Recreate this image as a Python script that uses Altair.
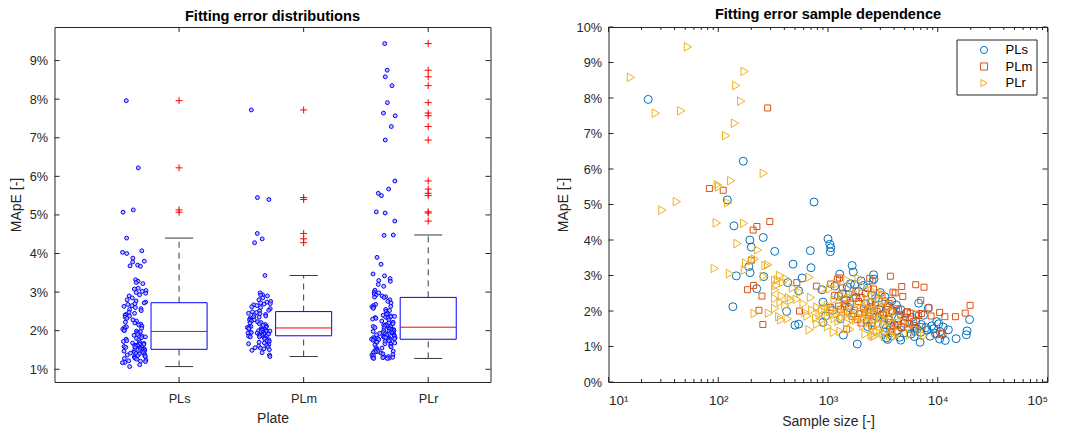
import altair as alt
import pandas as pd

PLATES = ["PLs", "PLm", "PLr"]
COLORS = ["#0072BD", "#D95319", "#EDB120"]
SHAPES = ["circle", "square", "triangle-right"]

PLS_MAPE = [7.96, 6.22, 5.13, 5.07, 4.40, 4.07, 4.03, 4.00, 3.88, 3.80, 3.78, 3.70, 3.68, 3.67,
            3.32, 3.28, 3.25, 3.22, 3.10, 3.08, 3.04, 3.02, 2.99, 2.97, 2.93, 2.90, 2.85, 2.80, 2.77, 2.74,
            2.72, 2.70, 2.68, 2.65, 2.63, 2.60, 2.57, 2.55, 2.52, 2.48, 2.45, 2.42, 2.40, 2.38, 2.35,
            2.32, 2.28, 2.25, 2.22, 2.20, 2.17, 2.15, 2.12, 2.10, 2.08, 2.06, 2.04, 2.02, 2.00, 1.99,
            1.97, 1.95, 1.93, 1.90, 1.88, 1.86, 1.84, 1.82, 1.80, 1.78, 1.76, 1.74, 1.72, 1.70, 1.68,
            1.67, 1.65, 1.64, 1.63, 1.62, 1.61, 1.60, 1.59, 1.58, 1.57, 1.56, 1.55, 1.54, 1.53, 1.52,
            1.51, 1.50, 1.49, 1.48, 1.47, 1.46, 1.45, 1.44, 1.43, 1.42, 1.41, 1.40, 1.38, 1.37, 1.35,
            1.34, 1.33, 1.32, 1.30, 1.29, 1.28, 1.26, 1.24, 1.22, 1.21, 1.20, 1.18, 1.17, 1.12, 1.07]
PLS_N = [23, 169, 121, 746, 139, 257, 1000, 194, 1040, 200, 1060, 690, 327, 1050,
         480, 1660, 190, 700, 1700, 195, 1280, 2600, 146, 260, 580, 2620, 2000, 430, 1600, 1750,
         2100, 1150, 1500, 2300, 224, 880, 540, 1900, 3000, 1350, 2500, 1250, 3300, 1800, 2700,
         1450, 3800, 900, 6700, 2200, 4200, 3500, 136, 1550, 8200, 2900, 4600, 1100, 3900, 420,
         2400, 5200, 1700, 3100, 7400, 950, 2800, 5800, 4400, 1300, 19500, 3600, 6300, 9800, 900,
         2500, 5000, 10200, 540, 7100, 3200, 500, 4000, 8800, 6000, 2300, 11200, 4700, 7800, 3400,
         5500, 9200, 6500, 3700, 12500, 8000, 4300, 18500, 6200, 10500, 3300, 7000, 4900, 9500, 5700,
         11000, 18200, 1380, 3800, 8500, 6100, 4500, 3400, 14700, 10400, 3500, 4600, 11700, 6900, 1850]

PLM_MAPE = [7.72, 5.45, 5.40, 4.52, 4.38, 4.28, 3.43,
            2.98, 2.93, 2.92, 2.90, 2.85, 2.80, 2.76, 2.74, 2.72, 2.70, 2.69, 2.67, 2.65, 2.62, 2.60, 2.57, 2.53, 2.51,
            2.49, 2.47, 2.45, 2.44, 2.42, 2.41, 2.38, 2.36, 2.35, 2.33, 2.30, 2.28, 2.27, 2.25, 2.23, 2.21, 2.20,
            2.18, 2.16, 2.14, 2.12, 2.11, 2.10, 2.09, 2.08,
            2.06, 2.05, 2.05, 2.04, 2.03, 2.02, 2.01, 2.00, 2.00, 1.99, 1.98, 1.97, 1.96, 1.96, 1.95, 1.94, 1.93,
            1.94, 1.92, 1.91, 1.91, 1.90, 1.89, 1.88, 1.87,
            1.86, 1.85, 1.84, 1.84, 1.82, 1.80, 1.78, 1.76, 1.74, 1.72, 1.70, 1.68, 1.66, 1.64, 1.62, 1.60, 1.58,
            1.56, 1.55, 1.53, 1.51, 1.49, 1.43, 1.37, 1.33]
PLM_N = [282, 83, 111, 295, 225, 208, 200,
         3700, 1270, 2400, 1220, 2550, 520, 1060, 6300, 210, 785, 4700, 7500, 1350, 2600, 185, 1800, 3900, 4100,
         2200, 1550, 3100, 1150, 250, 4800, 2000, 1700, 2900, 1400, 7000, 3300, 1900, 2450, 1600, 3600, 1450,
         2700, 19700, 1250, 2470, 3500, 1050, 8300, 2100,
         4200, 1300, 3000, 2300, 4400, 235, 1750, 550, 3800, 2800, 5300, 1500, 10400, 2150, 3400, 5600, 7100,
         17800, 1950, 2600, 6400, 3200, 4600, 2350, 6700,
         8700, 1650, 11600, 14500, 5100, 2900, 3600, 1850, 4900, 2250, 6000, 3700, 2000, 5500, 255, 4300, 2500,
         7200, 3900, 4700, 6200, 1480, 3800, 10800, 9700]

PLR_MAPE = [9.44, 8.75, 8.58, 8.35, 7.91, 7.64, 7.57, 7.29, 6.94, 5.88, 5.67, 5.56, 5.50, 5.08, 5.05, 4.84,
            4.48, 4.47, 3.90, 3.72, 3.47, 3.42, 3.35, 3.30, 3.28, 3.20, 3.15, 3.05, 3.00, 2.98, 2.95, 2.92,
            2.90, 2.88, 2.87,
            2.86, 2.80, 2.76, 2.72, 2.68, 2.65, 2.63, 2.62, 2.60, 2.58, 2.55, 2.52, 2.50, 2.45, 2.42,
            2.40, 2.38, 2.37, 2.36, 2.35, 2.34, 2.33, 2.32, 2.30, 2.28, 2.25, 2.22, 2.20, 2.18, 2.16,
            2.15, 2.13, 2.12, 2.11, 2.10,
            2.08, 2.07, 2.06, 2.05, 2.04, 2.03, 2.02, 2.01, 2.00, 1.99, 1.98, 1.97, 1.96, 1.95, 1.94,
            1.93, 1.92, 1.91, 1.90, 1.89, 1.88, 1.87, 1.86, 1.85, 1.84, 1.83, 1.82, 1.82, 1.81, 1.80,
            1.80, 1.79, 1.79, 1.78, 1.78,
            1.77, 1.76, 1.75, 1.74, 1.72, 1.71, 1.70, 1.68, 1.66, 1.65, 1.63, 1.60, 1.58, 1.56, 1.55,
            1.52, 1.50, 1.48, 1.47, 1.46, 1.45, 1.43, 1.42, 1.40, 1.38, 1.37, 1.35, 1.33, 1.32, 1.31,
            1.30, 1.30, 1.29, 1.28, 1.28]
PLR_N = [53, 174, 16, 146, 162, 46, 27, 142, 118, 260, 131, 99, 102, 42, 123, 31,
         97, 172, 150, 230, 215, 205, 180, 285, 270, 93, 175, 128, 366, 260, 680, 1900,
         420, 350, 1500,
         330, 390, 1200, 340, 2100, 480, 1050, 900, 330, 2500, 1700, 560, 3100, 1350, 380,
         2700, 700, 440, 1600, 330, 2300, 520, 1150, 460, 3300, 370, 1900, 600, 2900, 1000,
         410, 1400, 2200, 800, 3600,
         950, 330, 1750, 2600, 1100, 720, 2400, 880, 1300, 3800, 1050, 2000, 620, 1600, 290,
         215, 2800, 1200, 840, 2300, 1450, 3400, 650, 1900, 360, 2500, 1000, 4200, 1350, 780,
         2150, 3000, 1150, 430, 1700,
         2700, 900, 375, 1800, 3500, 1250, 2400, 4800, 1500, 2900, 800, 3300, 2100, 1000, 5500,
         2600, 3900, 1600, 680, 6800, 3000, 1300, 2800, 1130, 4400, 3200, 2200, 5600, 2500, 3700,
         2700, 7500, 4100, 2600, 3300]

LEFT_YTICKS = [1, 2, 3, 4, 5, 6, 7, 8, 9]
LEFT_XTICKS = [1, 2, 3]
RIGHT_YTICKS = [0, 1, 2, 3, 4, 5, 6, 7, 8, 9, 10]
RIGHT_XTICKS = [10, 100, 1000, 10000, 100000]
RIGHT_XMINOR = [20, 30, 40, 50, 60, 70, 80, 90,
                200, 300, 400, 500, 600, 700, 800, 900,
                2000, 3000, 4000, 5000, 6000, 7000, 8000, 9000,
                20000, 30000, 40000, 50000, 60000, 70000, 80000, 90000]

rows = []
for pos, (name, mv, nv) in enumerate(zip(PLATES, [PLS_MAPE, PLM_MAPE, PLR_MAPE], [PLS_N, PLM_N, PLR_N]), start=1):
    for i, (m, n) in enumerate(zip(mv, nv)):
        rows.append({"plate": name, "pos": pos, "mape": m, "n": n, "idx": i})
df = pd.DataFrame(rows)

AX = "#262626"
FONT = "Liberation Sans"
W1, W2, H = 436, 439, 355
TL, TLM = 5, 3

xs_l = alt.Scale(domain=[0, 3.5], nice=False, zero=False)
ys_l = alt.Scale(domain=[0.67, 9.87], nice=False, zero=False)
xs_r = alt.Scale(type="log", domain=[10, 100000], nice=False)
ys_r = alt.Scale(domain=[0, 10], nice=False, zero=False)

sup = ("datum.value == 10 ? '10\u00b9' : datum.value == 100 ? '10\u00b2' : "
       "datum.value == 1000 ? '10\u00b3' : datum.value == 10000 ? '10\u2074' : '10\u2075'")
ax_lx = alt.Axis(values=LEFT_XTICKS, title="Plate", labelPadding=10, titlePadding=7,
                 labelExpr="datum.value == 1 ? 'PLs' : datum.value == 2 ? 'PLm' : 'PLr'")
ax_ly = alt.Axis(values=LEFT_YTICKS, title="MApE [-]", labelExpr="datum.value + '%'",
                 labelPadding=7, titlePadding=6)
ax_rx = alt.Axis(values=RIGHT_XTICKS, labelExpr=sup, title="Sample size [-]", labelPadding=11,
                 titlePadding=8, labelFontSize=13.5)
ax_ry = alt.Axis(values=RIGHT_YTICKS, labelExpr="datum.value + '%'", title="MApE [-]",
                 labelPadding=7, titlePadding=6)


def tick_layers(xvals, yvals, xscale, yscale, xax, yax, w, h, xminor=None):
    out = []
    dy = alt.Chart(pd.DataFrame({"v": yvals}))
    out.append(dy.mark_rule(color=AX, strokeWidth=1).encode(
        y=alt.Y("v:Q", scale=yscale, axis=yax), x=alt.value(0), x2=alt.value(TL)))
    out.append(dy.mark_rule(color=AX, strokeWidth=1).encode(
        y=alt.Y("v:Q", scale=yscale, axis=yax), x=alt.value(w - TL), x2=alt.value(w)))
    dx = alt.Chart(pd.DataFrame({"v": xvals}))
    out.append(dx.mark_rule(color=AX, strokeWidth=1).encode(
        x=alt.X("v:Q", scale=xscale, axis=xax), y=alt.value(h - TL), y2=alt.value(h)))
    out.append(dx.mark_rule(color=AX, strokeWidth=1).encode(
        x=alt.X("v:Q", scale=xscale, axis=xax), y=alt.value(0), y2=alt.value(TL)))
    if xminor:
        dm = alt.Chart(pd.DataFrame({"v": xminor}))
        out.append(dm.mark_rule(color=AX, strokeWidth=1).encode(
            x=alt.X("v:Q", scale=xscale, axis=xax), y=alt.value(h - TLM), y2=alt.value(h)))
        out.append(dm.mark_rule(color=AX, strokeWidth=1).encode(
            x=alt.X("v:Q", scale=xscale, axis=xax), y=alt.value(0), y2=alt.value(TLM)))
    return out


base = alt.Chart(df)

# ---- left panel (deterministic visual jitter, not data)
jit = base.transform_calculate(
    h="abs(sin((datum.idx + 7 * datum.pos) * 12.9898) * 43758.5453) % 1"
).transform_calculate(
    jx="datum.pos - 0.36 + 0.19 * (datum.h - 0.5)"
).mark_point(shape="circle", size=15, fill="#a8a8ff", fillOpacity=0.7, stroke="#0000FF",
             strokeWidth=1, opacity=1).encode(
    x=alt.X("jx:Q", scale=xs_l, axis=ax_lx),
    y=alt.Y("mape:Q", scale=ys_l, axis=ax_ly),
)

boxd = base.transform_aggregate(
    q1="q1(mape)", q3="q3(mape)", med="median(mape)", groupby=["plate", "pos"]
).transform_calculate(xl="datum.pos - 0.225", xr="datum.pos + 0.225")
rect = boxd.mark_rect(fillOpacity=0, stroke="#0000FF", strokeWidth=1).encode(
    x=alt.X("xl:Q", scale=xs_l, axis=ax_lx), x2="xr:Q",
    y=alt.Y("q1:Q", scale=ys_l, axis=ax_ly), y2="q3:Q")
med = boxd.mark_rule(color="#FF0000", strokeWidth=1).encode(
    x=alt.X("xl:Q", scale=xs_l, axis=ax_lx), x2="xr:Q",
    y=alt.Y("med:Q", scale=ys_l, axis=ax_ly))

stats = base.transform_joinaggregate(
    q1="q1(mape)", q3="q3(mape)", groupby=["plate"]
).transform_calculate(
    lo="datum.q1 - 1.5 * (datum.q3 - datum.q1)",
    hi="datum.q3 + 1.5 * (datum.q3 - datum.q1)",
).transform_calculate(out="datum.mape < datum.lo || datum.mape > datum.hi")

wh = stats.transform_filter("!datum.out").transform_aggregate(
    wmin="min(mape)", wmax="max(mape)", q1="min(q1)", q3="min(q3)", groupby=["plate", "pos"]
).transform_calculate(cl="datum.pos - 0.113", cr="datum.pos + 0.113")
WC = "#3a3a3a"
up = wh.mark_rule(color=WC, strokeWidth=1, strokeDash=[6, 5]).encode(
    x=alt.X("pos:Q", scale=xs_l, axis=ax_lx), y=alt.Y("q3:Q", scale=ys_l, axis=ax_ly), y2="wmax:Q")
lowr = wh.mark_rule(color=WC, strokeWidth=1, strokeDash=[6, 5]).encode(
    x=alt.X("pos:Q", scale=xs_l, axis=ax_lx), y=alt.Y("wmin:Q", scale=ys_l, axis=ax_ly), y2="q1:Q")
capt = wh.mark_rule(color=WC, strokeWidth=1).encode(
    x=alt.X("cl:Q", scale=xs_l, axis=ax_lx), x2="cr:Q", y=alt.Y("wmax:Q", scale=ys_l, axis=ax_ly))
capb = wh.mark_rule(color=WC, strokeWidth=1).encode(
    x=alt.X("cl:Q", scale=xs_l, axis=ax_lx), x2="cr:Q", y=alt.Y("wmin:Q", scale=ys_l, axis=ax_ly))
outl = stats.transform_filter("datum.out").mark_point(
    shape="M-1,0H1M0,-1V1", size=49, stroke="#FF0000", strokeWidth=1, opacity=1).encode(
    x=alt.X("pos:Q", scale=xs_l, axis=ax_lx), y=alt.Y("mape:Q", scale=ys_l, axis=ax_ly))

left = alt.layer(jit, rect, up, lowr, capt, capb, med, outl,
                 *tick_layers(LEFT_XTICKS, LEFT_YTICKS, xs_l, ys_l, ax_lx, ax_ly, W1, H)).properties(
    width=W1, height=H, title=alt.TitleParams("Fitting error distributions", offset=2.5))

# ---- right panel
scatter = base.transform_calculate(
    sz="datum.plate == 'PLs' ? 64 : datum.plate == 'PLm' ? 36 : 72"
).mark_point(filled=False, strokeWidth=1, opacity=1).encode(
    x=alt.X("n:Q", scale=xs_r, axis=ax_rx),
    y=alt.Y("mape:Q", scale=ys_r, axis=ax_ry),
    color=alt.Color("plate:N", scale=alt.Scale(domain=PLATES, range=COLORS),
                    legend=alt.Legend(title=None, orient="none", legendX=348, legendY=12.5)),
    shape=alt.Shape("plate:N", scale=alt.Scale(domain=PLATES, range=SHAPES),
                    legend=alt.Legend(title=None, orient="none", legendX=348, legendY=12.5)),
    size=alt.Size("sz:Q", scale=None),
)

right = alt.layer(scatter, *tick_layers(RIGHT_XTICKS, RIGHT_YTICKS, xs_r, ys_r, ax_rx, ax_ry, W2, H,
                                        RIGHT_XMINOR)).properties(
    width=W2, height=H, title=alt.TitleParams("Fitting error sample dependence", offset=-1))

chart = alt.hconcat(left, right, spacing=64).resolve_scale(
    x="independent", y="independent", color="independent", shape="independent"
).properties(
    padding={"left": 8.5, "top": 6, "right": 5, "bottom": 0}
).configure_view(
    stroke=AX, strokeWidth=1
).configure_axis(
    labelFont=FONT, labelFontSize=12.7, labelColor=AX, titleFont=FONT, titleFontSize=14,
    titleColor=AX, titleFontWeight="normal", ticks=False, domain=False, grid=False
).configure_title(
    font=FONT, fontSize=14.6, fontWeight="bold", color="#000000", anchor="middle"
).configure_legend(
    strokeColor=AX, fillColor="white", padding=4, rowPadding=2.5, labelFont=FONT, labelFontSize=13,
    labelColor="#000000", symbolStrokeWidth=1, symbolSize=50, symbolOffset=17, labelOffset=15,
    symbolFillColor="transparent"
)

chart.save("out.html", embed_options={"renderer": "svg", "actions": False})
